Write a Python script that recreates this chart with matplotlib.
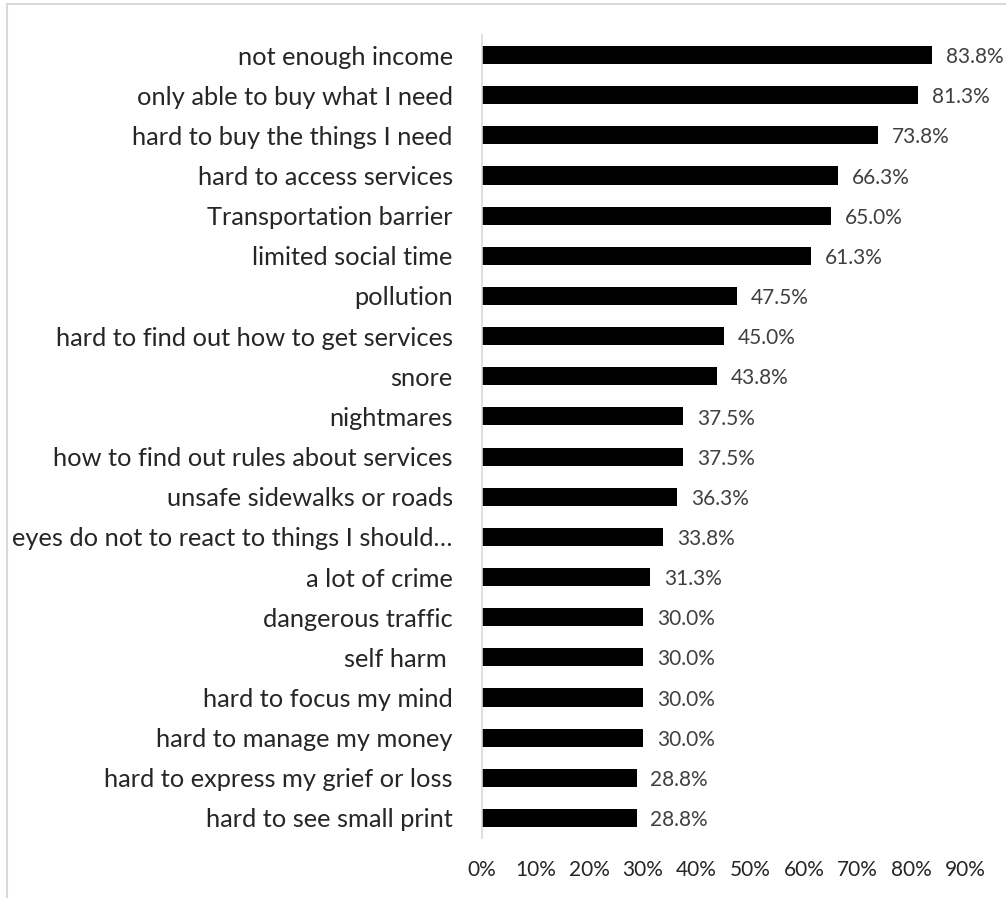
import matplotlib
matplotlib.use("Agg")
import matplotlib.pyplot as plt
from matplotlib.lines import Line2D

categories = [
    "not enough income",
    "only able to buy what I need",
    "hard to buy the things I need",
    "hard to access services",
    "Transportation barrier",
    "limited social time",
    "pollution",
    "hard to find out how to get services",
    "snore",
    "nightmares",
    "how to find out rules about services",
    "unsafe sidewalks or roads",
    "eyes do not to react to things I should\u2026",
    "a lot of crime",
    "dangerous traffic",
    "self harm ",
    "hard to focus my mind",
    "hard to manage my money",
    "hard to express my grief or loss",
    "hard to see small print",
]
values = [83.8, 81.3, 73.8, 66.3, 65.0, 61.3, 47.5, 45.0, 43.8, 37.5,
          37.5, 36.3, 33.8, 31.3, 30.0, 30.0, 30.0, 30.0, 28.8, 28.8]
xticks = [0, 10, 20, 30, 40, 50, 60, 70, 80, 90]
xtick_labels = ["0%", "10%", "20%", "30%", "40%", "50%", "60%", "70%", "80%", "90%"]

plt.rcParams['font.family'] = ['Lato', 'DejaVu Sans']
W, H = 1006, 898
fig = plt.figure(figsize=(W / 100, H / 100), dpi=100)
ax = fig.add_axes([482 / W, 1 - 838 / H, (965 - 482) / W, (838 - 35) / H])

n = len(categories)
ypos = list(range(n))
ax.barh(ypos, values, height=0.45, color="black")
for y, v in zip(ypos, values):
    ax.annotate(f"{v:.1f}%", (v, y), xytext=(10, -1.5), textcoords="offset points",
                ha="left", va="center", fontsize=15, color="#404040",
                annotation_clip=False)

ax.set_ylim(n - 0.5, -0.5)
ax.set_xlim(0, 90)
ax.set_yticks(ypos)
ax.set_yticklabels(categories, fontsize=18.3, color="#262626")
ax.set_xticks(xticks)
ax.set_xticklabels(xtick_labels, fontsize=15, color="#262626")
ax.tick_params(axis="y", length=0, pad=21)
ax.tick_params(axis="x", length=0, pad=16)
for s in ["top", "right", "bottom"]:
    ax.spines[s].set_visible(False)
ax.spines["left"].set_color("#D9D9D9")
ax.spines["left"].set_linewidth(1.2)

# figure border
fig.add_artist(Line2D([7 / W, 1], [1 - 4 / H, 1 - 4 / H], color="#D9D9D9", lw=1.5,
                      transform=fig.transFigure))
fig.add_artist(Line2D([7 / W, 7 / W], [0, 1 - 4 / H], color="#D9D9D9", lw=1.5,
                      transform=fig.transFigure))

fig.savefig("out.png", dpi=100, facecolor="white")
